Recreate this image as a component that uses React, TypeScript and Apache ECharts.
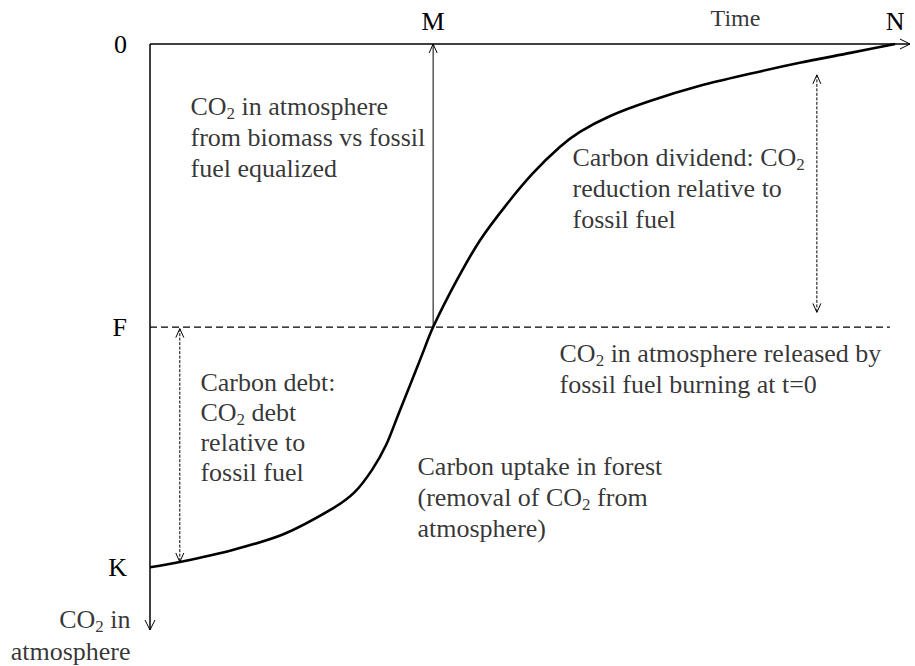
import React, { useEffect, useRef } from "react";
import * as echarts from "echarts";

// ---- axis extents & reference levels (data units) ----
const TIME_MAX = 102; // x-axis arrow tip
const CO2_MAX = 112; // y-axis arrow tip (axis runs downward)
const F_LEVEL = 54.1; // CO2 released by fossil fuel burning at t=0
const K_LEVEL = 100; // CO2 released by biomass burning at t=0
const M_TIME = 38; // parity point
const N_TIME = 100; // end of time span

// ---- curve: CO2 in atmosphere from biomass over time ----
const curveTime = [0, 4.0, 11.1, 17.9, 24.6, 27.5, 29.8, 31.7, 33.3, 34.9, 36.4, 38.0, 41.2, 44.3, 47.9, 51.4, 55.0, 57.7, 61.7, 67.1, 73.8, 80.5, 87.2, 94.0, 100];
const curveCO2 = [100, 99.0, 96.7, 93.7, 88.7, 85.6, 81.4, 76.6, 70.9, 65.2, 59.8, 54.1, 45.1, 37.5, 30.6, 24.7, 19.7, 16.8, 13.8, 10.9, 8.0, 5.7, 3.6, 1.7, 0];

// ---- dashed fossil-fuel level line ----
const fossilLineTime = [0, 99.3];

// ---- arrows: axes, parity arrow, debt and dividend arrows ----
const arrowFromTime = [0, 0, M_TIME, 4, 89.5];
const arrowFromCO2 = [0, 0, F_LEVEL, 54.4, 5.9];
const arrowToTime = [TIME_MAX, 0, M_TIME, 4, 89.5];
const arrowToCO2 = [0, CO2_MAX, 0, 99.0, 51.3];

// ---- tick labels ----
const xTickValues = [M_TIME, N_TIME];
const xTickLabels = ["M", "N"];
const yTickValues = [0, F_LEVEL, K_LEVEL];
const yTickLabels = ["0", "F", "K"];

// ---- annotation texts ----
const annotationTexts = [
  ["Time"],
  ["CO{s|2} in atmosphere", "from biomass vs fossil", "fuel equalized"],
  ["Carbon dividend: CO{s|2}", "reduction relative to", "fossil fuel"],
  ["CO{s|2} in atmosphere released by", "fossil fuel burning at t=0"],
  ["Carbon debt:", "CO{s|2} debt", "relative to", "fossil fuel"],
  ["Carbon uptake in forest", "(removal of CO{s|2} from", "atmosphere)"],
  ["CO{s|2} in", "atmosphere"],
];

// layout of annotations (anchor in axis units, alignment, font) – not data
const annotationLayout = [
  { t: 78.65, c: -7.78, align: "center", fs: 24, lh: 30 },
  { t: 5.5, c: 9.08, align: "left", fs: 26, lh: 31 },
  { t: 56.77, c: 18.83, align: "left", fs: 26, lh: 31 },
  { t: 55.03, c: 56.29, align: "left", fs: 26, lh: 31 },
  { t: 6.84, c: 61.93, align: "left", fs: 26, lh: 30 },
  { t: 35.97, c: 77.89, align: "left", fs: 26, lh: 31 },
  { t: -2.55, c: 107.08, align: "right", fs: 26, lh: 31.5 },
];

// styling of arrows (not data)
const arrowStyles = [
  { width: 1.5, dash: null as number[] | null, start: false, end: true, len: 10, half: 5 },
  { width: 1.5, dash: null as number[] | null, start: false, end: true, len: 10, half: 5 },
  { width: 1, dash: null as number[] | null, start: false, end: true, len: 9, half: 4 },
  { width: 1, dash: [3, 1.5], start: true, end: true, len: 9, half: 4 },
  { width: 1, dash: [3, 1.5], start: true, end: true, len: 9, half: 4 },
];

const FONT = "Liberation Serif";
const AXIS_FS = 26;

// wrap plain segments in the "n" rich style so every token is styled
function richLine(line: string) {
  const parts = line.split(/(\{s\|[^}]*\})/);
  return parts.filter((p) => p.length > 0).map((p) => (p.startsWith("{s|") ? p : `{n|${p}}`)).join("");
}

function makeRich(fs: number, lh: number) {
  return {
    n: { fontSize: fs, fontFamily: FONT, color: "#000", lineHeight: lh },
    s: { fontSize: Math.round(fs * 0.65), fontFamily: FONT, color: "#000", lineHeight: lh - 11, verticalAlign: "bottom" },
  };
}

function nearestLabel(values: number[], labels: string[], v: number) {
  let best = 0;
  for (let i = 1; i < values.length; i++) {
    if (Math.abs(values[i] - v) < Math.abs(values[best] - v)) best = i;
  }
  return Math.abs(values[best] - v) < 0.5 ? labels[best] : "";
}

export default function App() {
  const ref = useRef<HTMLDivElement>(null);

  useEffect(() => {
    if (!ref.current) return;
    const chart = echarts.init(ref.current, null, { renderer: "svg" });

    const arrowData = arrowFromTime.map((t, i) => [t, arrowFromCO2[i], arrowToTime[i], arrowToCO2[i]]);

    const renderArrow = (params: any, api: any) => {
      const st = arrowStyles[params.dataIndex];
      const p1 = api.coord([api.value(0), api.value(1)]);
      const p2 = api.coord([api.value(2), api.value(3)]);
      const dx = p2[0] - p1[0];
      const dy = p2[1] - p1[1];
      const L = Math.sqrt(dx * dx + dy * dy) || 1;
      const ux = dx / L;
      const uy = dy / L;
      const nx = -uy;
      const ny = ux;
      const head = (tip: number[], dirx: number, diry: number) => ({
        type: "polyline",
        shape: {
          points: [
            [tip[0] - dirx * st.len + nx * st.half, tip[1] - diry * st.len + ny * st.half],
            [tip[0], tip[1]],
            [tip[0] - dirx * st.len - nx * st.half, tip[1] - diry * st.len - ny * st.half],
          ],
        },
        style: { stroke: "#000", fill: null, lineWidth: 1 },
      });
      const children: any[] = [
        {
          type: "line",
          shape: { x1: p1[0], y1: p1[1], x2: p2[0], y2: p2[1] },
          style: { stroke: "#000", lineWidth: st.width, lineDash: st.dash || undefined },
        },
      ];
      if (st.end) children.push(head(p2, ux, uy));
      if (st.start) children.push(head(p1, -ux, -uy));
      return { type: "group", children };
    };

    const annotationData = annotationLayout.map((a) => ({
      value: [a.t, a.c],
      label: { align: a.align, fontSize: a.fs, lineHeight: a.lh, rich: makeRich(a.fs, a.lh) },
    }));

    chart.setOption({
      animation: false,
      textStyle: { fontFamily: FONT },
      grid: { left: 150, top: 44, width: 760, height: 586, containLabel: false },
      xAxis: {
        type: "value",
        position: "top",
        min: 0,
        max: TIME_MAX,
        axisLine: { show: false },
        axisTick: { show: false },
        splitLine: { show: false },
        axisLabel: {
          customValues: xTickValues,
          formatter: (v: number) => nearestLabel(xTickValues, xTickLabels, v),
          color: "#000",
          fontSize: AXIS_FS,
          fontFamily: FONT,
          margin: 10,
        },
      },
      yAxis: {
        type: "value",
        inverse: true,
        min: 0,
        max: CO2_MAX,
        axisLine: { show: false },
        axisTick: { show: false },
        splitLine: { show: false },
        axisLabel: {
          customValues: yTickValues,
          formatter: (v: number) => nearestLabel(yTickValues, yTickLabels, v),
          color: "#000",
          fontSize: AXIS_FS,
          fontFamily: FONT,
          margin: 23,
        },
      },
      series: [
        {
          type: "line",
          data: fossilLineTime.map((t) => [t, F_LEVEL]),
          symbol: "none",
          lineStyle: { color: "#000", width: 1.2, type: [7, 4] },
          silent: true,
        },
        {
          type: "line",
          data: curveTime.map((t, i) => [t, curveCO2[i]]),
          smooth: 0.3,
          symbol: "none",
          lineStyle: { color: "#000", width: 2.6 },
          silent: true,
        },
        {
          type: "custom",
          data: arrowData,
          renderItem: renderArrow,
          clip: false,
          silent: true,
        },
        {
          type: "scatter",
          data: annotationData,
          symbolSize: 1,
          clip: false,
          silent: true,
          itemStyle: { color: "rgba(0,0,0,0)" },
          label: {
            show: true,
            position: [0, 0],
            verticalAlign: "top",
            color: "#000",
            fontSize: 26,
            fontFamily: FONT,
            lineHeight: 31,
            formatter: (p: any) => annotationTexts[p.dataIndex].map(richLine).join("\n"),
            rich: makeRich(26, 31),
          },
        },
      ],
    });

    return () => chart.dispose();
  }, []);

  return <div ref={ref} style={{ position: "absolute", left: 0, top: 0, width: 915, height: 666, background: "#fff" }} />;
}
